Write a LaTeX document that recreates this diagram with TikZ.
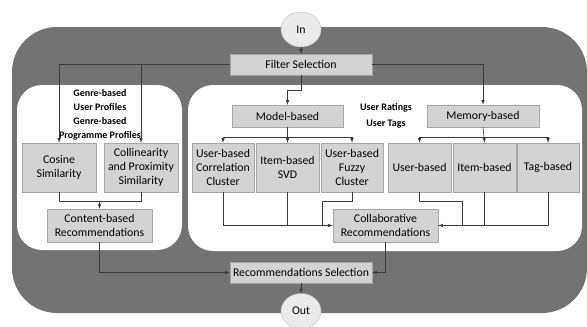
\documentclass[tikz,border=0pt]{standalone}
\usepackage{fontspec}
\setmainfont{Carlito}
\usetikzlibrary{backgrounds, shapes.geometric}
\definecolor{panelgray}{HTML}{737373}
\definecolor{boxfill}{HTML}{D3D3D3}
\definecolor{boxline}{HTML}{A5A5A5}
\definecolor{ringfill}{HTML}{EBEBEB}
\definecolor{ringline}{HTML}{BDBDBD}
\definecolor{wire}{HTML}{3A3A3A}
\begin{document}
\begin{tikzpicture}[x=1pt, y=-1pt]
    %tikz recommender flow
\tikzset{
    block/.style 2 args={draw=boxline, fill=boxfill, minimum width=#1, minimum height=#2,
        inner sep=0pt, align=center, font=\fontsize{11.8}{14}\selectfont},
    ring/.style={ellipse, draw=ringline, fill=ringfill, minimum width=40pt, minimum height=35pt,
        inner sep=0pt, font=\fontsize{11.8}{14}\selectfont},
    tag/.style={align=center, font=\fontsize{10}{14}\selectfont\bfseries},
    wire/.style={draw=wire, line width=0.6pt},
    feed/.style={wire, -latex}
}
    \useasboundingbox (0,0) rectangle (587,327);

    \node[ring](In) at (301,29.5) {In};
    \node[ring](Out) at (301,311) {Out};
    \node[block={142pt}{21pt}](Filter) at (301,64.5) {Filter Selection};
    \node[block={111pt}{22pt}](Model) at (287.5,116) {Model-based};
    \node[block={112pt}{22pt}](Memory) at (483,116) {Memory-based};
    \node[block={74pt}{49pt}](Cosine) at (59,167.5) {Cosine\\Similarity};
    \node[block={74pt}{49pt}](Colli) at (141,167.5) {Collinearity\\and Proximity\\Similarity};
    \node[block={62pt}{49pt}](Corr) at (223,167.5) {User-based\\Correlation\\Cluster};
    \node[block={63pt}{49pt}](SVD) at (287.5,167.5) {Item-based\\SVD};
    \node[block={62pt}{49pt}](Fuzzy) at (352,167.5) {User-based\\Fuzzy\\Cluster};
    \node[block={63pt}{49pt}](UserB) at (419.5,167.5) {User-based};
    \node[block={63pt}{49pt}](ItemB) at (484.5,167.5) {Item-based};
    \node[block={62pt}{49pt}](TagB) at (548,167.5) {Tag-based};
    \node[block={105pt}{33pt}](Content) at (99.5,225.5) {Content-based\\Recommendations};
    \node[block={105pt}{33pt}](Collab) at (385.5,225.5) {Collaborative\\Recommendations};
    \node[block={142pt}{21pt}](RecSel) at (301,272.5) {Recommendations Selection};
    \node[tag](Genre1) at (100,100) {Genre-based\\User Profiles};
    \node[tag](Genre2) at (100,128.5) {Genre-based\\Programme Profiles};
    \node[tag](Ratings) at (386,108) {User Ratings};
    \node[tag](Tags) at (386,124) {User Tags};

    \begin{scope}[on background layer]
    \fill[panelgray, rounded corners=45pt] (12,27) rectangle (587,313);
    \fill[white, rounded corners=25pt] (17,85) rectangle (182,250);
    \fill[white, rounded corners=25pt] (188,85) rectangle (582,251);
    \end{scope}

    \coordinate (ModelFork) at ([yshift=-10pt]Model.south);
    \coordinate (MemoryFork) at ([yshift=-10pt]Memory.south);
    \coordinate (ContentJoin) at ([yshift=8pt]Content.north);
    \coordinate (FuzzyDrop) at ([xshift=-11pt]Collab.west);
    \coordinate (UserDrop) at ([xshift=24pt]Collab.east);

    \draw[feed] (In) -- (Filter);
    \draw[feed] (Filter.west) -| (Cosine.north);
    \draw[feed] (Filter.west) -| (Colli.north);
    \draw[feed] (Filter.east) -| (Memory.north);
    \draw[feed] (Filter.south) -- ++(0,15) -| (Model.north);

    \draw[feed] (Model.south) -- (SVD.north);
    \draw[feed] (ModelFork) -| (Corr.north);
    \draw[feed] (ModelFork) -| (Fuzzy.north);
    \draw[feed] (Memory.south) -- (ItemB.north);
    \draw[feed] (MemoryFork) -| (UserB.north);
    \draw[feed] (MemoryFork) -| (TagB.north);

    \draw[wire] (Cosine.south) -- ++(0,9) -| (Colli.south);
    \draw[feed] (ContentJoin) -- (Content.north);

    \draw[feed] (Corr.south) |- (Collab.west);
    \draw[wire] (SVD.south) -- (SVD.south |- Collab.west);
    \draw[wire] (Fuzzy.south) -- ++(0,9) -| (FuzzyDrop);
    \draw[feed] (TagB.south) |- (Collab.east);
    \draw[wire] (ItemB.south) -- (ItemB.south |- Collab.east);
    \draw[wire] (UserB.south) -- ++(0,9) -| (UserDrop);

    \draw[feed] (Content.south) |- (RecSel.west);
    \draw[feed] (Collab.south) |- (RecSel.east);
    \draw[feed] (RecSel) -- (Out);
\end{tikzpicture}
\end{document}
